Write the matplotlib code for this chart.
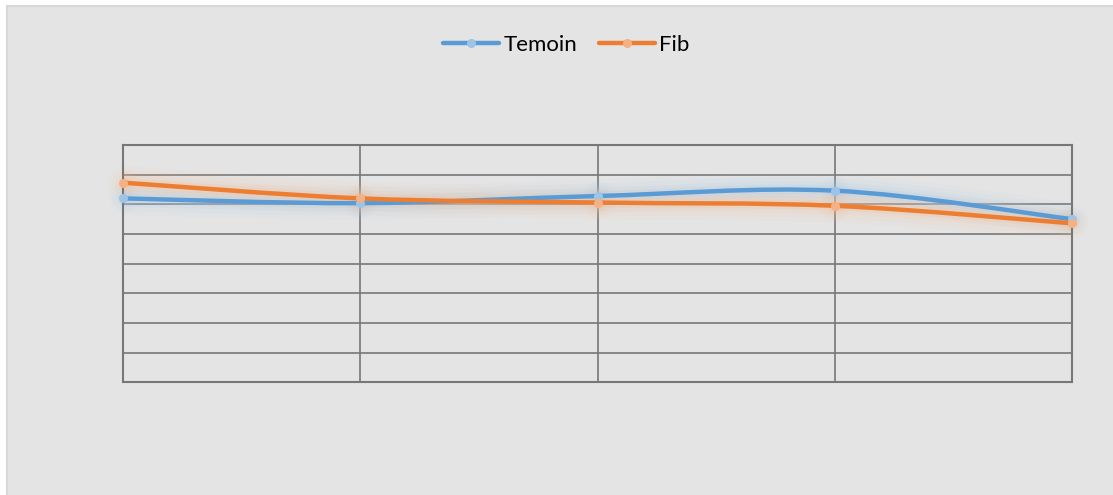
import matplotlib.pyplot as plt
import matplotlib.patches as patches
from matplotlib.path import Path
from matplotlib.lines import Line2D

# series values, one per category
categories = ['1', '2', '3', '4', '5']
temoin = [6.20, 6.04, 6.28, 6.46, 5.50]
fib = [6.73, 6.20, 6.06, 5.95, 5.36]

series = [
    ('Temoin', temoin, '#5b9bd5', '#9dc3e6', '#a9cbec'),
    ('Fib', fib, '#ed7d31', '#f4b183', '#f6bf96'),
]


def smooth_path(xs, ys):
    # bezier smoothing through every point (excel-like smoothed line)
    pts = list(zip(xs, ys))
    n = len(pts)
    verts = [pts[0]]
    codes = [Path.MOVETO]
    for i in range(n - 1):
        p0 = pts[max(i - 1, 0)]
        p1 = pts[i]
        p2 = pts[i + 1]
        p3 = pts[min(i + 2, n - 1)]
        c1 = (p1[0] + (p2[0] - p0[0]) / 6, p1[1] + (p2[1] - p0[1]) / 6)
        c2 = (p2[0] - (p3[0] - p1[0]) / 6, p2[1] - (p3[1] - p1[1]) / 6)
        verts += [c1, c2, p2]
        codes += [Path.CURVE4] * 3
    return Path(verts, codes)


fig = plt.figure(figsize=(11.13, 4.95), dpi=100)
fig.patch.set_facecolor('white')

# chart area background with light frame
fig.add_artist(patches.Rectangle((6.5 / 1113, -0.1), 1.2, 1.1 - 6.5 / 495,
                                 transform=fig.transFigure, facecolor='#e4e4e4',
                                 edgecolor='#d8d8d8', lw=1.5, zorder=0))

ax = fig.add_axes([123 / 1113, 1 - 382.3 / 495, (1072 - 123) / 1113, (382.3 - 145) / 495])
ax.set_facecolor('none')
ax.set_xlim(0, len(categories) - 1)
ax.set_ylim(0, 8)
ax.set_xticks(range(len(categories)))
ax.set_yticks(range(0, 9))
ax.tick_params(length=0, labelbottom=False, labelleft=False)
ax.grid(True, color='#777777', lw=1.2)
for sp in ax.spines.values():
    sp.set_color('#777777')
    sp.set_linewidth(1.5)

xs = list(range(len(categories)))
for name, vals, color, mcolor, glow in series:
    path = smooth_path(xs, vals)
    # soft glow around the line
    for w, a in [(24, 0.06), (18, 0.08), (12, 0.12), (7, 0.2)]:
        ax.add_patch(patches.PathPatch(path, facecolor='none', edgecolor=glow, lw=w,
                                       alpha=a, capstyle='round', joinstyle='round', zorder=2))
        ax.plot(xs, vals, 'o', ms=w * 0.9, color=glow, alpha=a, mew=0, zorder=2, clip_on=False)
    ax.add_patch(patches.PathPatch(path, facecolor='none', edgecolor=color, lw=3.2,
                                   capstyle='round', zorder=3))
    ax.plot(xs, vals, 'o', ms=6.5, color=mcolor, mew=0, zorder=4, clip_on=False)

handles = [Line2D([], [], color=c, lw=3.2, marker='o', ms=6.5, mfc=m, mew=0,
                  solid_capstyle='round') for _, _, c, m, _ in series]
fig.legend(handles, [s[0] for s in series], loc='center', bbox_to_anchor=(0.509, 1 - 45 / 495),
           ncol=2, frameon=False, handlelength=2.5, handletextpad=0.2, columnspacing=1.0,
           prop={'family': 'Lato', 'size': 16})

fig.savefig('out.png', dpi=100)
